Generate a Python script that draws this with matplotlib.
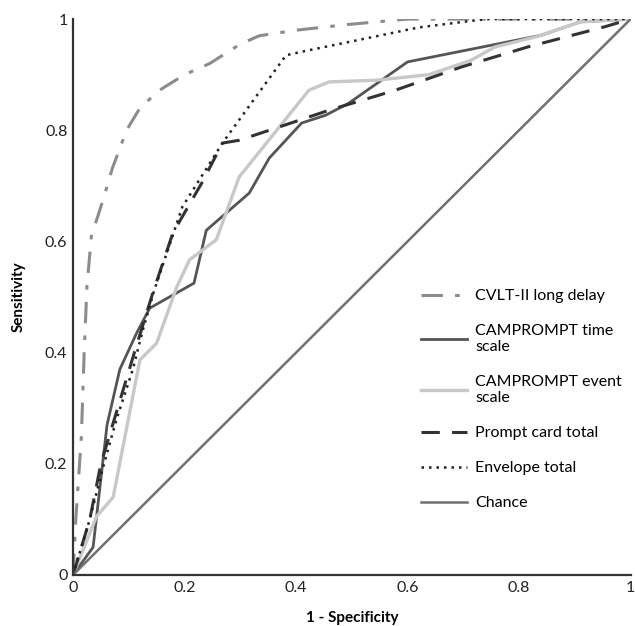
import matplotlib
matplotlib.use("Agg")
import matplotlib.pyplot as plt

plt.rcParams['font.family'] = ['Lato', 'DejaVu Sans']

# ROC curves
cvlt_x = [0, 0.005, 0.015, 0.02, 0.025, 0.033, 0.054, 0.07, 0.096, 0.12, 0.155, 0.2, 0.245, 0.3, 0.334, 0.4, 0.49, 0.6, 1]
cvlt_y = [0, 0.10, 0.25, 0.40, 0.52, 0.61, 0.675, 0.73, 0.80, 0.84, 0.872, 0.90, 0.92, 0.955, 0.97, 0.98, 0.99, 1.0, 1.0]

time_x = [0, 0.036, 0.061, 0.084, 0.114, 0.1375, 0.217, 0.239, 0.316, 0.352, 0.41, 0.453, 0.495, 0.60, 0.84, 0.91, 1]
time_y = [0, 0.05, 0.27, 0.37, 0.435, 0.48, 0.525, 0.62, 0.687, 0.75, 0.813, 0.827, 0.849, 0.923, 0.971, 0.995, 1.0]

event_x = [0, 0.042, 0.072, 0.12, 0.15, 0.186, 0.209, 0.257, 0.298, 0.423, 0.459, 0.543, 0.638, 0.714, 0.757, 0.83, 0.91, 1]
event_y = [0, 0.105, 0.14, 0.387, 0.417, 0.518, 0.567, 0.603, 0.716, 0.872, 0.887, 0.89, 0.90, 0.926, 0.95, 0.968, 0.995, 1.0]

card_x = [0, 0.03, 0.05, 0.08, 0.11, 0.143, 0.179, 0.232, 0.268, 0.298, 0.364, 0.459, 0.578, 0.697, 0.816, 0.953, 1]
card_y = [0, 0.10, 0.20, 0.30, 0.40, 0.507, 0.615, 0.707, 0.777, 0.782, 0.804, 0.836, 0.872, 0.914, 0.95, 0.986, 1.0]

env_x = [0, 0.03, 0.054, 0.078, 0.107, 0.125, 0.145, 0.196, 0.268, 0.382, 0.423, 0.51, 0.62, 0.74, 1]
env_y = [0, 0.10, 0.194, 0.28, 0.369, 0.44, 0.51, 0.662, 0.777, 0.935, 0.944, 0.962, 0.985, 1.0, 1.0]

chance_x = [0, 1]
chance_y = [0, 1]

fig = plt.figure(figsize=(6.35, 6.26), dpi=100)
ax = fig.add_axes([0.115, 0.0815, 0.878, 0.888])

ax.plot(cvlt_x, cvlt_y, color='#8c8c8c', lw=2.2, dashes=(7, 4, 1.5, 4), label='CVLT-II long delay')
ax.plot(time_x, time_y, color='#555555', lw=2.0, label='CAMPROMPT time\nscale')
ax.plot(event_x, event_y, color='#c8c8c8', lw=2.4, label='CAMPROMPT event\nscale')
ax.plot(card_x, card_y, color='#333333', lw=2.2, dashes=(6, 4), label='Prompt card total')
ax.plot(env_x, env_y, color='#222222', lw=1.8, linestyle=(0, (1, 2)), label='Envelope total')
ax.plot(chance_x, chance_y, color='#707070', lw=1.8, label='Chance')

ax.set_xlim(0, 1)
ax.set_ylim(0, 1)
ticks = [0, 0.2, 0.4, 0.6, 0.8, 1]
tick_labels = ['0', '0.2', '0.4', '0.6', '0.8', '1']
ax.set_xticks(ticks)
ax.set_xticklabels(tick_labels)
ax.set_yticks(ticks)
ax.set_yticklabels(tick_labels)
ax.tick_params(length=0, labelsize=11.5, colors='#222222', pad=4)

for s in ['top', 'right']:
    ax.spines[s].set_visible(False)
for s in ['left', 'bottom']:
    ax.spines[s].set_linewidth(1.6)
    ax.spines[s].set_color('#333333')

ax.set_xlabel('1 - Specificity', fontsize=11, fontweight='bold', labelpad=12)
ax.set_ylabel('Sensitivity', fontsize=11, fontweight='bold', labelpad=14)

ax.legend(loc='upper left', bbox_to_anchor=(0.598, 0.54), frameon=False, fontsize=11.5,
          handlelength=2.9, labelspacing=1.3, handletextpad=0.5)

fig.savefig('out.png', dpi=100)
